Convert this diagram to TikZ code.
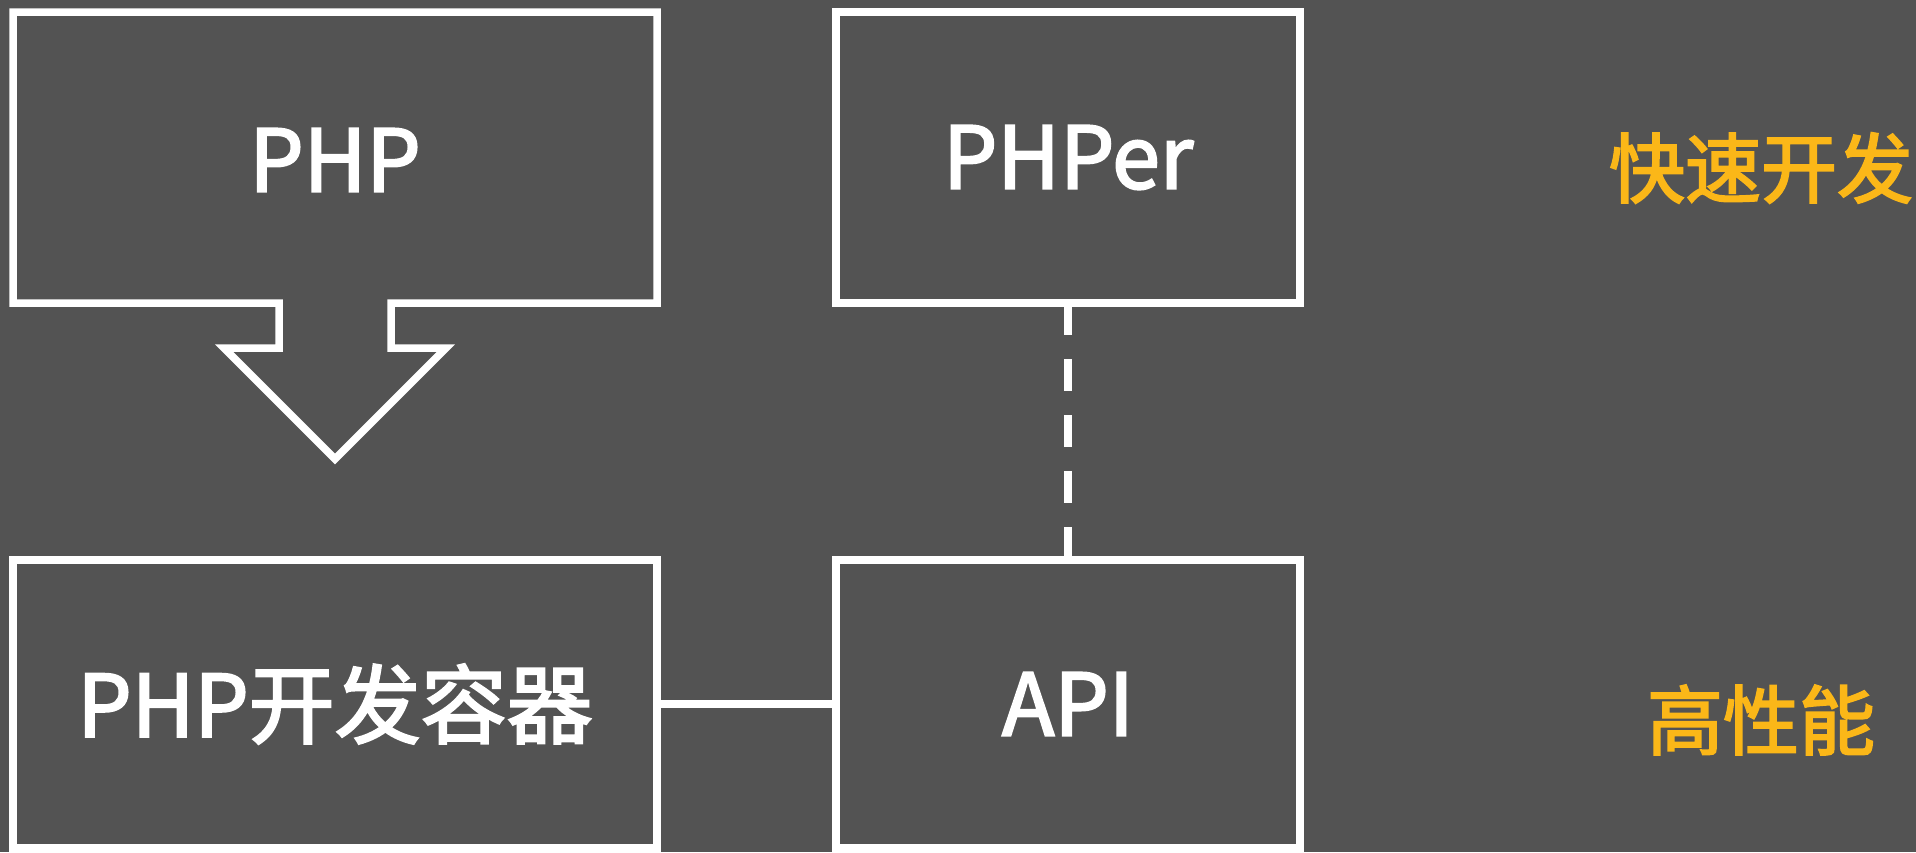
\documentclass[tikz,border=0pt]{standalone}
\usepackage{fontspec}
\setmainfont{Noto Sans CJK SC}[FakeBold=2.5]
\definecolor{bgc}{HTML}{535353}
\definecolor{accent}{HTML}{FBB718}
\begin{document}
\begin{tikzpicture}[x=1pt,y=-1pt,
  outline/.style={draw=white, line width=7.5pt, line join=miter},
  boxnode/.style={outline, rectangle, outer sep=0pt, inner sep=0pt, text=white,
    font=\fontsize{86}{90}\selectfont},
  whitetext/.style={text=white, inner sep=0pt, font=\fontsize{86}{90}\selectfont},
  accenttext/.style={text=accent, inner sep=0pt, font=\fontsize{76}{80}\selectfont},
  link/.style={draw=white, line width=7.5pt},
  dashlink/.style={draw=white, line width=7.5pt, dash pattern=on 32pt off 24pt}]
\fill[bgc] (0,0) rectangle (1916,852);
\useasboundingbox (0,0) rectangle (1916,852);
% callout arrow shape
\draw[outline] (13,12) -- (657,12) -- (657,303) -- (391,303) -- (391,348) -- (446,348)
  -- (335,459) -- (224,348) -- (279,348) -- (279,303) -- (13,303) -- cycle;
\node[whitetext] (php) at (335,160) {PHP};
\node[boxnode, minimum width=464pt, minimum height=291pt] (pher) at (1068,157.5) {PHPer};
\node[boxnode, minimum width=644pt, minimum height=288pt] (cont) at (335,704) {PHP开发容器};
\node[boxnode, minimum width=464pt, minimum height=288pt] (api) at (1068,704) {API};
\node[accenttext] (fast) at (1761,168) {快速开发};
\node[accenttext] (perf) at (1761,720) {高性能};
\draw[dashlink] (pher.south) -- (api.north);
\draw[link] (cont.east) -- (api.west);
\end{tikzpicture}
\end{document}
